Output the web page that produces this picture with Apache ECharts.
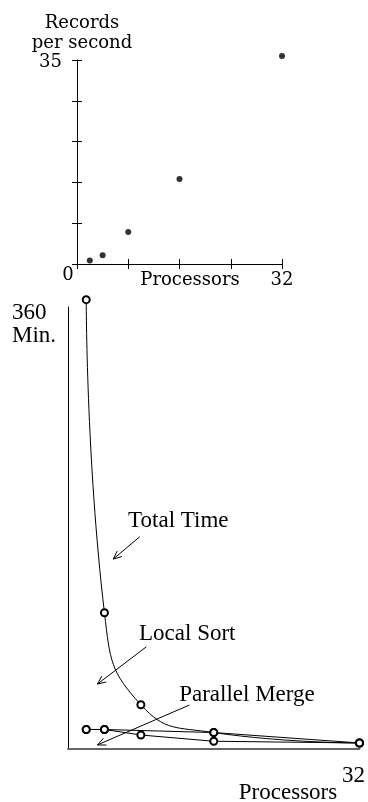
<!doctype html>
<html>
	<head>
		<meta charset="utf-8">
		<title>Records per second / Minutes vs Processors</title>
		<script type="text/javascript" src="https://cdn.jsdelivr.net/npm/echarts@6/dist/echarts.min.js"></script>
	</head>

	<body style="margin:0;padding:0;background:#fff">
		<div id="tb" style="width:368px;height:802px;"></div>
		<script>
			// data
			var procs = [2, 4, 8, 16, 32];
			var recordsPerSec = [0.6, 1.5, 5.5, 14.6, 35.7];
			var totalTime = [366, 111, 36, 13.4, 4.9];
			var parallelMerge = [15.9, 15.9, 11.4, 6.3, 4.9];
			var localSortProcs = [2, 4, 16, 32];
			var localSort = [15.9, 15.9, 13.4, 4.9];
			var topXTicks = [32];
			var topYTicks = [35];
			var bottomXTicks = [32];

			// annotations: label text, label anchor, arrow start, arrow end (data units of lower chart)
			var notes = [
				{text: 'Total Time', at: [6.6, 185.5], from: [7.88, 172.9], to: [4.97, 154.7]},
				{text: 'Local Sort', at: [7.8, 93.5], from: [8.61, 83.3], to: [3.23, 52.9]},
				{text: 'Parallel Merge', at: [12.2, 43.8], from: [13.32, 35.8], to: [3.23, 3.3]}
			];

			var zip = function(xs, ys) {
				return xs.map(function(x, i) { return [x, ys[i]]; });
			};

			var cm = 'DejaVu Serif';
			var tm = 'Liberation Serif';
			var black = '#000';

			var chart = echarts.init(document.getElementById('tb'));

			var lineSeries = function(name, xs, ys) {
				return {
					name: name,
					type: 'line',
					xAxisIndex: 2,
					yAxisIndex: 2,
					data: zip(xs, ys),
					symbol: 'emptyCircle',
					symbolSize: 7,
					clip: false,
					animation: false,
					lineStyle: {color: black, width: 1},
					itemStyle: {color: black, borderColor: black, borderWidth: 0.9}
				};
			};

			var total = lineSeries('Total Time', procs, totalTime);
			total.smooth = 0.5;

			chart.setOption({
				animation: false,
				grid: [
					{left: 77, top: 60, width: 205, height: 204},
					{left: 68, top: 307, width: 294, height: 442}
				],
				xAxis: [
					{
						gridIndex: 0, type: 'value', min: 0, max: 32, interval: 8,
						axisLine: {lineStyle: {color: black, width: 1}},
						axisTick: {length: 5, lineStyle: {color: black}},
						splitLine: {show: false},
						axisLabel: {
							margin: 7, color: black, fontFamily: cm, fontSize: 18,
							formatter: function(v) { return topXTicks.indexOf(v) >= 0 ? String(v) : ''; }
						}
					},
					{
						gridIndex: 0, type: 'value', min: 0, max: 32, interval: 8, position: 'bottom',
						axisLine: {show: false},
						axisTick: {inside: true, length: 5, lineStyle: {color: black}},
						splitLine: {show: false},
						axisLabel: {show: false}
					},
					{
						gridIndex: 1, type: 'value', min: 0, max: 32, interval: 32,
						axisLine: {lineStyle: {color: '#666', width: 2}},
						axisTick: {show: false},
						splitLine: {show: false},
						axisLabel: {
							margin: 15, color: black, fontFamily: tm, fontSize: 23,
							formatter: function(v) { return bottomXTicks.indexOf(v) >= 0 ? '{a|' + v + '}' : ''; },
							rich: {a: {fontFamily: tm, fontSize: 23, color: black, padding: [0, 12, 0, 0]}}
						}
					}
				],
				yAxis: [
					{
						gridIndex: 0, type: 'value', min: 0, max: 35, interval: 7,
						axisLine: {show: true, lineStyle: {color: black, width: 1}},
						axisTick: {show: true, length: 5, lineStyle: {color: black}},
						splitLine: {show: false},
						axisLabel: {
							margin: 15, color: black, fontFamily: cm, fontSize: 18,
							formatter: function(v) { return topYTicks.indexOf(v) >= 0 ? '{a|' + v + '}' : ''; },
							rich: {a: {fontFamily: cm, fontSize: 18, color: black, padding: [4, 0, 0, 0]}}
						}
					},
					{
						gridIndex: 0, type: 'value', min: 0, max: 35, interval: 7, position: 'left',
						axisLine: {show: false},
						axisTick: {show: true, inside: true, length: 5, lineStyle: {color: black}},
						splitLine: {show: false},
						axisLabel: {show: false}
					},
					{
						gridIndex: 1, type: 'value', min: 0, max: 360, interval: 360,
						axisLine: {show: true, lineStyle: {color: black, width: 1}},
						axisTick: {show: false},
						splitLine: {show: false},
						axisLabel: {show: false}
					}
				],
				series: [
					{
						name: 'Records per second',
						type: 'scatter',
						xAxisIndex: 0,
						yAxisIndex: 0,
						data: zip(procs, recordsPerSec),
						symbolSize: 6,
						clip: false,
						itemStyle: {color: black}
					},
					total,
					lineSeries('Parallel Merge', procs, parallelMerge),
					lineSeries('Local Sort', localSortProcs, localSort)
				]
			});

			// free text and arrows
			var txt = function(s, x, y, font, size, align) {
				return {
					type: 'text', silent: true,
					style: {text: s, x: x, y: y, fill: black, fontFamily: font, fontSize: size,
						align: align || 'center', verticalAlign: 'middle'}
				};
			};

			var g = [
				txt('Records', 82, 23, cm, 18),
				txt('per second', 82, 43, cm, 18),
				txt('0', 68, 275, cm, 18),
				txt('Processors', 190, 280, cm, 18),
				txt('360', 12, 313, tm, 23, 'left'),
				txt('Min.', 12, 336, tm, 23, 'left'),
				txt('Processors', 288, 793, tm, 23)
			];

			var px = function(p) {
				return chart.convertToPixel({xAxisIndex: 2, yAxisIndex: 2}, p);
			};

			notes.forEach(function(n) {
				var a = px(n.at), s = px(n.from), e = px(n.to);
				g.push(txt(n.text, a[0], a[1], tm, 23, 'left'));
				var ang = Math.atan2(e[1] - s[1], e[0] - s[0]);
				var len = 9, spread = 0.42;
				var h1 = [e[0] - len * Math.cos(ang - spread), e[1] - len * Math.sin(ang - spread)];
				var h2 = [e[0] - len * Math.cos(ang + spread), e[1] - len * Math.sin(ang + spread)];
				g.push({type: 'polyline', silent: true, shape: {points: [s, e]}, style: {stroke: black, lineWidth: 1, fill: null}});
				g.push({type: 'polyline', silent: true, shape: {points: [h1, e, h2]}, style: {stroke: black, lineWidth: 1, fill: null}});
			});

			chart.setOption({graphic: g});
		</script>
	</body>
</html>
